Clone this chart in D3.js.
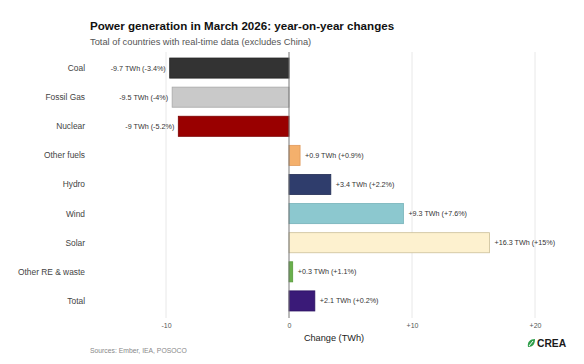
<!DOCTYPE html>
<html>
<head>
<meta charset="utf-8">
<script src="https://cdn.jsdelivr.net/npm/d3@7"></script>
<style>
  body { margin: 0; background: #fff; }
  svg { font-family: "Liberation Sans", Arial, sans-serif; }
</style>
</head>
<body>
<div id="chart"></div>
<script>
// data
const categories = ["Coal", "Fossil Gas", "Nuclear", "Other fuels", "Hydro", "Wind", "Solar", "Other RE & waste", "Total"];
const changeTWh = [-9.7, -9.5, -9, 0.9, 3.4, 9.3, 16.3, 0.3, 2.1];
const valueLabels = ["-9.7 TWh (-3.4%)", "-9.5 TWh (-4%)", "-9 TWh (-5.2%)", "+0.9 TWh (+0.9%)", "+3.4 TWh (+2.2%)",
  "+9.3 TWh (+7.6%)", "+16.3 TWh (+15%)", "+0.3 TWh (+1.1%)", "+2.1 TWh (+0.2%)"];
const tickValues = [-10, 0, 10, 20];
const tickLabels = ["-10", "0", "+10", "+20"];
const fills = ["#333333", "#c9c9c9", "#990000", "#f4b06c", "#2f3d6c", "#8cc8cf", "#fdf1cf", "#6ab04c", "#3a1a78"];
const strokes = ["#222222", "#a8a8a8", "#7a0000", "#e0995a", "#222d55", "#74b1b8", "#cbbf98", "#569a3a", "#2a1060"];

const W = 584, H = 364;
const svg = d3.select("#chart").append("svg")
  .attr("width", W)
  .attr("height", H);

const x = d3.scaleLinear().domain([-10, 20]).range([166, 535]);
const y = d3.scaleBand().domain(categories).range([49, 320]).padding(0.31);
const plotTop = 52, plotBottom = 318;

// titles
svg.append("text")
  .attr("x", 90).attr("y", 30)
  .attr("font-size", 11.6).attr("font-weight", "bold").attr("fill", "#111")
  .text("Power generation in March 2026: year-on-year changes");
svg.append("text")
  .attr("x", 90).attr("y", 45)
  .attr("font-size", 9.3).attr("fill", "#555")
  .text("Total of countries with real-time data (excludes China)");

// grid
svg.append("g").selectAll("line")
  .data(tickValues.filter(d => d !== 0))
  .join("line")
  .attr("x1", d => x(d)).attr("x2", d => x(d))
  .attr("y1", plotTop).attr("y2", plotBottom)
  .attr("stroke", "#e8e8e8").attr("stroke-width", 1);

// bars
const rows = categories.map((c, i) => ({ cat: c, v: changeTWh[i], label: valueLabels[i], fill: fills[i], stroke: strokes[i] }));
svg.append("g").selectAll("rect")
  .data(rows)
  .join("rect")
  .attr("x", d => x(Math.min(0, d.v)))
  .attr("width", d => Math.abs(x(d.v) - x(0)))
  .attr("y", d => y(d.cat))
  .attr("height", y.bandwidth())
  .attr("fill", d => d.fill)
  .attr("stroke", d => d.stroke)
  .attr("stroke-width", 0.8);

// zero line
svg.append("line")
  .attr("x1", x(0)).attr("x2", x(0))
  .attr("y1", plotTop).attr("y2", plotBottom)
  .attr("stroke", "#777").attr("stroke-width", 1);

// value labels
svg.append("g").selectAll("text")
  .data(rows)
  .join("text")
  .attr("x", d => d.v < 0 ? x(d.v) - 4 : x(d.v) + 5)
  .attr("y", d => y(d.cat) + y.bandwidth() / 2)
  .attr("dy", "0.35em")
  .attr("text-anchor", d => d.v < 0 ? "end" : "start")
  .attr("font-size", 7.2).attr("fill", "#333")
  .text(d => d.label);

// category labels
svg.append("g").selectAll("text")
  .data(categories)
  .join("text")
  .attr("x", 85)
  .attr("y", d => y(d) + y.bandwidth() / 2)
  .attr("dy", "0.35em")
  .attr("text-anchor", "end")
  .attr("font-size", 8.4).attr("fill", "#444")
  .text(d => d);

// x axis
const xAxis = d3.axisBottom(x)
  .tickValues(tickValues)
  .tickFormat((d, i) => tickLabels[i])
  .tickSize(0)
  .tickPadding(4);
const gx = svg.append("g")
  .attr("transform", `translate(0,${plotBottom + 1})`)
  .call(xAxis);
gx.select(".domain").remove();
gx.selectAll("text").attr("font-size", 7).attr("fill", "#555").attr("font-family", "Liberation Sans, Arial, sans-serif");

svg.append("text")
  .attr("x", 334).attr("y", 341)
  .attr("text-anchor", "middle")
  .attr("font-size", 9.2).attr("fill", "#222")
  .text("Change (TWh)");

svg.append("text")
  .attr("x", 90).attr("y", 353)
  .attr("font-size", 6.8).attr("fill", "#888")
  .text("Sources: Ember, IEA, POSOCO");

// CREA logo
const logo = svg.append("g").attr("transform", "translate(527,339)");
logo.append("path")
  .attr("d", "M1,8 C0,3 3,0 8,0 C8,5 6,8 1,8 Z")
  .attr("fill", "#2e9e4a");
logo.append("path")
  .attr("d", "M2,7 L6,2")
  .attr("stroke", "#fff").attr("stroke-width", 1);
logo.append("text")
  .attr("x", 10).attr("y", 8.2)
  .attr("font-size", 10.3).attr("font-weight", "bold").attr("fill", "#1a1a1a")
  .text("CREA");
</script>
</body>
</html>
